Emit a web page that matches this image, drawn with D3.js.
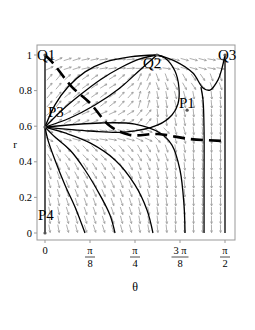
<!DOCTYPE html>
<html><head><meta charset="utf-8">
<script src="https://cdn.jsdelivr.net/npm/d3@7"></script>
<style>body{margin:0;background:#fff}svg{display:block}</style>
</head><body>
<script>
// ---- data (theta in radians, r) ----
const equilibria = [
  {name:"Q1", th:0, r:1},
  {name:"Q2", th:0.977, r:1},
  {name:"Q3", th:1.5708, r:1},
  {name:"P1", th:1.24, r:0.69},
  {name:"P3", th:0, r:0.595},
  {name:"P4", th:0, r:0}
];
const trajUp1 = [[0,0.595],[0.087,0.72],[0.2,0.82],[0.35,0.905],[0.524,0.96],[0.742,0.99],[0.977,1]];
const trajUp2 = [[0,0.595],[0.148,0.69],[0.305,0.775],[0.48,0.86],[0.654,0.927],[0.829,0.978],[0.977,1]];
const trajUp3 = [[0,0.595],[0.218,0.646],[0.436,0.719],[0.654,0.815],[0.829,0.916],[0.977,1]];
const trajLoop = [[0,0.595],[0.393,0.573],[0.698,0.567],[0.986,0.607],[1.108,0.663],[1.16,0.725],[1.169,0.815],[1.134,0.91],[1.047,0.983],[0.977,1]];
const trajQ2Q3 = [[0.977,1],[1.134,0.966],[1.291,0.899],[1.379,0.815],[1.44,0.803],[1.51,0.86],[1.545,0.927],[1.5708,1]];
const trajQ2Down = [[1.361,0.82],[1.379,0.747],[1.388,0.579],[1.388,0.3],[1.388,0]];
const trajDownA = [[0,0.595],[0.026,0.522],[0.087,0.41],[0.174,0.27],[0.262,0.146],[0.349,0]];
const trajDownB = [[0,0.595],[0.087,0.539],[0.218,0.466],[0.349,0.354],[0.48,0.213],[0.567,0.101],[0.611,0]];
const trajDownC = [[0,0.595],[0.174,0.562],[0.393,0.506],[0.611,0.41],[0.785,0.27],[0.89,0.129],[0.942,0]];
const trajDownD = [[0,0.595],[0.48,0.618],[0.785,0.612],[1.004,0.562],[1.108,0.494],[1.178,0.354],[1.213,0.157],[1.222,0]];
const trajAxis0 = [[0,0],[0,1]];
const trajAxisR = [[1.5708,0],[1.5708,1]];
const dashedCurve = [[0,1],[0.061,0.961],[0.236,0.82],[0.393,0.73],[0.567,0.601],[0.741,0.551],[0.986,0.556],[1.265,0.528],[1.5708,0.517]];
const trajectories = [trajAxis0, trajAxisR, trajUp1, trajUp2, trajUp3, trajLoop, trajQ2Q3, trajQ2Down, trajDownA, trajDownB, trajDownC, trajDownD];

// direction field: screen angle in degrees (0 = +theta, 90 = +r), rows from r=1 band down to r=0 band
const fieldAngles = [
  [25, 18, 12, 8, 4, 0, -8, -15, -15, -10],
  [50, 42, 35, 32, 40, 65, -70, -60, -55, -70],
  [50, 40, 35, 38, 48, 75, -80, -75, -80, -85],
  [40, 30, 25, 25, 32, 50, -85, -80, -85, -88],
  [-30, -15, -10, -10, -15, -25, -45, -75, -85, -88],
  [-60, -50, -45, -45, -50, -60, -70, -80, -87, -89],
  [-70, -62, -58, -58, -62, -70, -78, -84, -88, -89],
  [-75, -68, -65, -65, -68, -74, -80, -85, -88, -89],
  [-78, -72, -70, -70, -72, -77, -82, -86, -88, -89],
  [-80, -75, -72, -72, -75, -80, -84, -87, -89, -89]
];
const xTicks = [{v:0, num:"0", den:null},{v:Math.PI/8,num:"π",den:"8"},{v:Math.PI/4,num:"π",den:"4"},{v:3*Math.PI/8,num:"3 π",den:"8"},{v:Math.PI/2,num:"π",den:"2"}];
const yTicks = [0,0.2,0.4,0.6,0.8,1];

// ---- drawing ----
const W=255,H=330;
const svg=d3.select("body").append("svg").attr("width",W).attr("height",H);
svg.append("rect").attr("width",W).attr("height",H).attr("fill","#fff");
const x=d3.scaleLinear().domain([0,Math.PI/2]).range([45,225]);
const y=d3.scaleLinear().domain([0,1]).range([233,55]);
const serif="'Liberation Serif','Times New Roman',serif";

// frame
svg.append("rect").attr("x",37).attr("y",45).attr("width",198).attr("height",195)
  .attr("fill","none").attr("stroke","#999").attr("stroke-width",1);

// direction field arrows
const nC=20,nR=20;
const fg=svg.append("g").attr("stroke","#9a9a9a").attr("stroke-width",0.8).attr("fill","none");
for(let i=0;i<nC;i++){
  for(let j=0;j<nR;j++){
    const th=(i+0.5)/nC*Math.PI/2, r=(j+0.5)/nR;
    const ci=Math.min(9,Math.floor(i/2)), rj=Math.min(9,9-Math.floor(j/2));
    const a=fieldAngles[rj][ci]*Math.PI/180;
    const cx=x(th), cy=y(r), L=4;
    const dx=Math.cos(a)*L, dy=-Math.sin(a)*L;
    const hx=cx+dx, hy=cy+dy;
    fg.append("line").attr("x1",cx-dx).attr("y1",cy-dy).attr("x2",hx).attr("y2",hy);
    const h=2.3;
    [0.45,-0.45].forEach(s=>{
      const b=a+Math.PI+s;
      fg.append("line").attr("x1",hx).attr("y1",hy).attr("x2",hx+Math.cos(b)*h).attr("y2",hy-Math.sin(b)*h);
    });
  }
}

// trajectories
const line=d3.line().x(d=>x(d[0])).y(d=>y(d[1])).curve(d3.curveCatmullRom.alpha(0.5));
svg.append("g").selectAll("path").data(trajectories).join("path")
  .attr("d",line).attr("fill","none").attr("stroke","#000").attr("stroke-width",1.3);

// dashed curve
svg.append("path").datum(dashedCurve).attr("d",line).attr("fill","none")
  .attr("stroke","#000").attr("stroke-width",2.6).attr("stroke-dasharray","12,6");

// points
svg.append("g").selectAll("circle").data(equilibria).join("circle")
  .attr("cx",d=>x(d.th)).attr("cy",d=>y(d.r)).attr("r",1.6).attr("fill","#555");

// labels
const labelPos={Q1:[37,60],Q2:[143,68],Q3:[218,60],P1:[179,108],P3:[48,117],P4:[38,220]};
svg.append("g").selectAll("text").data(equilibria).join("text")
  .attr("x",d=>labelPos[d.name][0]).attr("y",d=>labelPos[d.name][1])
  .attr("font-family",serif).attr("font-size",15).attr("fill","#000").text(d=>d.name);

// y axis ticks
const ya=svg.append("g").attr("font-family",serif).attr("font-size",10.5);
yTicks.forEach(v=>{
  ya.append("line").attr("x1",34).attr("x2",37).attr("y1",y(v)).attr("y2",y(v)).attr("stroke","#999");
  ya.append("text").attr("x",32).attr("y",y(v)+3.5).attr("text-anchor","end").text(v===0?"0":(v===1?"1":d3.format(".1f")(v)));
});
// x axis ticks
const xa=svg.append("g").attr("font-family",serif).attr("font-size",10.5).attr("text-anchor","middle");
xTicks.forEach(t=>{
  const px=x(t.v);
  xa.append("line").attr("x1",px).attr("x2",px).attr("y1",240).attr("y2",243).attr("stroke","#999");
  xa.append("text").attr("x",px).attr("y",254).text(t.num);
  if(t.den!==null){
    const w=t.num.length>1?17:10;
    xa.append("line").attr("x1",px-w/2).attr("x2",px+w/2).attr("y1",257).attr("y2",257).attr("stroke","#000").attr("stroke-width",0.7);
    xa.append("text").attr("x",px).attr("y",267).text(t.den);
  }
});
svg.append("text").attr("x",15).attr("y",148).attr("font-family",serif).attr("font-size",11).attr("text-anchor","middle").text("r");
svg.append("text").attr("x",135).attr("y",291).attr("font-family",serif).attr("font-size",12).attr("text-anchor","middle").text("θ");
</script>
</body></html>
